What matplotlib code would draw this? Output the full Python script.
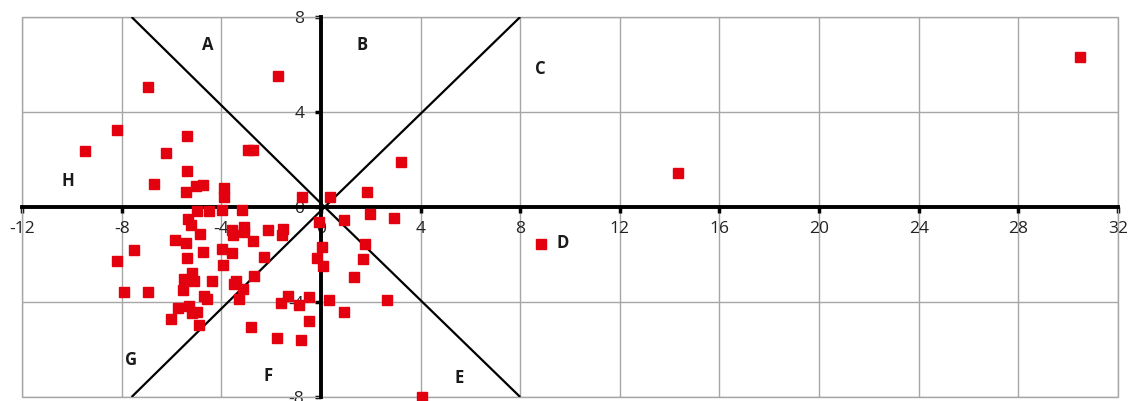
import matplotlib
matplotlib.use("Agg")
from matplotlib import pyplot as plt
from matplotlib.patches import Rectangle

# point coordinates
x_vals = [30.47, 14.35, 8.82, 4.05, -1.72, -6.94, -8.18, -9.46, -5.37, -6.21,
          -2.93, -2.73, -5.37, -6.70, -5.41, -5.01, -4.73, -3.89, -3.89, -0.76,
          0.36, 1.84, 3.21, -4.97, -4.49, -3.97, -3.17, -5.33, -5.21, -4.85,
          -5.85, -5.41, -7.50, -8.18, -4.73, -3.97, -3.57, -3.53, -3.09, -3.09,
          -2.13, -1.52, -1.56, -2.73, -3.57, -2.29, -3.93, -5.37, -2.69, -5.17,
          -5.49, -5.09, -4.37, -3.41, -3.49, -3.13, -5.53, -4.69, -4.57, -3.29,
          -7.90, -6.94, -5.73, -5.29, -5.17, -4.97, -6.01, -4.89, -1.32, -1.60,
          -0.88, -0.48, -0.48, -2.81, -1.76, -0.80, -0.08, 0.04, -0.16, 0.08,
          0.32, 1.96, 2.93, 0.92, 1.76, 1.68, 1.32, 2.65, 0.92]
y_vals = [6.32, 1.43, -1.56, -8.00, 5.52, 5.05, 3.24, 2.36, 2.99, 2.27,
          2.40, 2.40, 1.52, 0.97, 0.63, 0.88, 0.93, 0.80, 0.42, 0.42,
          0.42, 0.63, 1.89, -0.17, -0.17, -0.13, -0.13, -0.51, -0.76, -1.14,
          -1.39, -1.52, -1.81, -2.27, -1.89, -1.77, -0.97, -1.18, -0.84, -1.05,
          -0.97, -0.93, -1.18, -1.43, -1.94, -2.11, -2.44, -2.15, -2.91, -2.78,
          -3.03, -3.12, -3.12, -3.12, -3.24, -3.45, -3.49, -3.75, -3.87, -3.87,
          -3.58, -3.58, -4.25, -4.17, -4.46, -4.42, -4.72, -4.97, -3.75, -4.04,
          -4.13, -3.79, -4.80, -5.05, -5.52, -5.60, -0.63, -1.68, -2.15, -2.48,
          -3.92, -0.29, -0.46, -0.55, -1.56, -2.19, -2.95, -3.92, -4.42]

# sector boundary lines (end points of the four rays)
ray_x = [-7.6, 8.0, -7.6, 8.0]
ray_y = [8.0, -8.0, -8.0, 8.0]

sector_names = ['A', 'B', 'C', 'D', 'E', 'F', 'G', 'H']
sector_x = [-4.53, 1.64, 8.82, 9.7, 5.53, -2.12, -7.62, -10.14]
sector_y = [6.8, 6.8, 5.8, -1.5, -7.2, -7.1, -6.45, 1.1]

x_ticks = list(range(-12, 33, 4))
y_ticks = list(range(-8, 9, 4))

plt.rcParams['font.family'] = ['Open Sans', 'DejaVu Sans']
plt.rcParams['axes.unicode_minus'] = False

fig = plt.figure(figsize=(11.31, 4.01), dpi=100)
ax = fig.add_axes([22 / 1131, 4 / 401, 1096 / 1131, 380 / 401])
ax.set_xlim(-12, 32)
ax.set_ylim(-8, 8)

ax.set_xticks(x_ticks)
ax.set_yticks(y_ticks)
ax.grid(True, color='#a6a6a6', lw=1)
ax.set_axisbelow(True)

for side in ['top', 'right']:
    ax.spines[side].set_visible(False)
for side in ['left', 'bottom']:
    ax.spines[side].set_position(('data', 0))
    ax.spines[side].set_color('black')
    ax.spines[side].set_linewidth(2.8)
    ax.spines[side].set_zorder(3)

ax.tick_params(axis='both', direction='out', length=4, width=2.5,
               color='black', labelsize=12.5, labelcolor='#222222')
ax.tick_params(axis='x', pad=6)
ax.tick_params(axis='y', pad=8)

# outer frame
ax.add_patch(Rectangle((0, 0), 1, 1, transform=ax.transAxes, fill=False,
                       edgecolor='#a6a6a6', lw=1, clip_on=False, zorder=1))

# diagonal rays from origin
for rx, ry in zip(ray_x, ray_y):
    ax.plot([0.15, rx], [0, ry], color='black', lw=1.6, zorder=3,
            solid_capstyle='butt')

ax.plot(x_vals, y_vals, ls='none', marker='s', ms=7, color='#e3000f',
        mec='#e3000f', zorder=4, clip_on=False)

for name, tx, ty in zip(sector_names, sector_x, sector_y):
    ax.text(tx, ty, name, fontsize=12, fontweight='bold', ha='center',
            va='center', color='#1a1a1a')

fig.savefig('out.png', dpi=100)
